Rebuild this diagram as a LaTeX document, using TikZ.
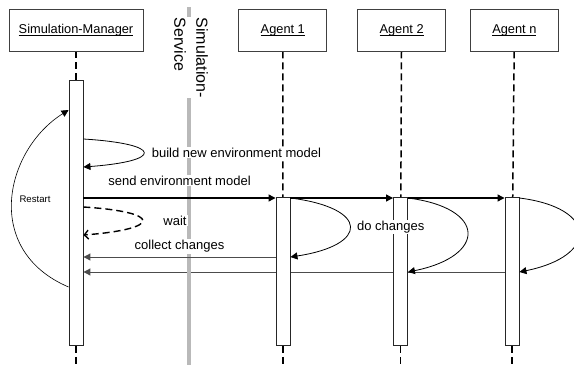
\documentclass[tikz,border=0pt]{standalone}
\usepackage{fontspec}
\setmainfont{Liberation Sans}
\usetikzlibrary{positioning,arrows.meta,backgrounds}

\newcommand\lanename[1]{\setbox0\hbox{#1}\rlap{\rule[-2.2pt]{\wd0}{0.7pt}}\box0}

\begin{document}
\begin{tikzpicture}[
  x=1pt, y=-1pt,
  head/.style={draw=black!75, line width=0.8pt, minimum width=88pt, minimum height=42pt, inner sep=0pt, font=\fontsize{12.8}{15}\selectfont},
  act/.style={draw=black!85, line width=0.9pt, fill=white, minimum width=14pt, inner sep=0pt},
  life/.style={line width=1.5pt, dash pattern=on 7pt off 4pt},
  msg/.style={-{Triangle[length=7pt,width=7pt]}, line width=1.2pt},
  ret/.style={-{Triangle[length=7pt,width=7pt]}, line width=1pt, draw=black!70},
  loop/.style={-{Triangle[length=7pt,width=7pt]}, line width=0.8pt},
  lbl/.style={fill=white, inner sep=1pt, font=\fontsize{13}{15}\selectfont}
]
\useasboundingbox (0,0) rectangle (574,365);

% lanes
\node[head, minimum width=134pt] (mgr) at (76,30) {\lanename{Simulation-Manager}};
\node[head, right=95pt of mgr] (ag1) {\lanename{Agent 1}};
\node[head, right=30pt of ag1] (ag2) {\lanename{Agent 2}};
\node[head, right=24pt of ag2] (agn) {\lanename{Agent n}};
\coordinate (bot) at (0,364);

% activations
\node[act, minimum height=265pt, anchor=north] (mact) at (mgr.south |- 0,80) {};
\node[act, minimum height=148pt, anchor=north] (act1) at (283,197) {};
\node[act, minimum height=148pt, anchor=north] (act2) at (400.5,197) {};
\node[act, minimum height=148pt, anchor=north] (actn) at (512,197) {};

% simulation service
\coordinate (svtop) at (189,7);
\coordinate (svbot) at (189,365);
\draw[line width=4.5pt, gray!55] (svtop) -- (svbot);
\node[rotate=-90, anchor=west, fill=white, inner sep=0.5pt, align=left, font=\fontsize{16}{22}\selectfont] (svc) at (191,17) {Simulation-\\Service};

\begin{pgfonlayer}{background}
\foreach \h/\a in {mgr/mact, ag1/act1, ag2/act2, agn/actn} {
  \draw[life] (\h) -- (\a);
  \draw[life] (\a.south) -- (\a.south |- bot);
}
\draw[ret] (actn.west |- 0,272) -- (mact.east |- 0,272);
\end{pgfonlayer}

% messages
\draw[loop] (mact.east |- 0,139) .. controls +(80,5) and +(80,-6) .. (mact.east |- 0,167)
  node[lbl, pos=0.5, right=7pt] {build new environment model};
\draw[msg] (mact.east |- 0,198) -- (act1.west |- 0,198)
  node[lbl, midway, above=11pt] {send environment model};
\draw[msg] (act1.east |- 0,198) -- (act2.west |- 0,198);
\draw[msg] (act2.east |- 0,198) -- (actn.west |- 0,198);
\draw[line width=1.4pt, dash pattern=on 7pt off 4pt, -{Straight Barb[length=4pt,width=9pt]}]
  (mact.east |- 0,207) .. controls +(79,5) and +(79,-6) .. (mact.east |- 0,235)
  node[lbl, pos=0.5, right=19pt] {wait};
\draw[loop] (act1.east |- 0,198) .. controls +(79,10) and +(79,-12) .. (act1.east |- 0,257)
  node[lbl, pos=0.5, right=6pt] {do changes};
\draw[loop] (act2.east |- 0,198) .. controls +(79,10) and +(79,-16) .. (act2.east |- 0,272);
\draw[loop] (actn.east |- 0,198) .. controls +(79,10) and +(79,-16) .. (actn.east |- 0,272);
\draw[ret] (act1.west |- 0,257) -- (mact.east |- 0,257)
  node[lbl, midway, above=3pt] {collect changes};
\draw[loop, line width=0.6pt] (mact.west |- 0,287) .. controls (-18,250) and (5,150) .. (mact.west |- 0,110)
  node[pos=0.5, right=6pt, inner sep=1pt, font=\fontsize{9.6}{11}\selectfont] {Restart};
\end{tikzpicture}
\end{document}
